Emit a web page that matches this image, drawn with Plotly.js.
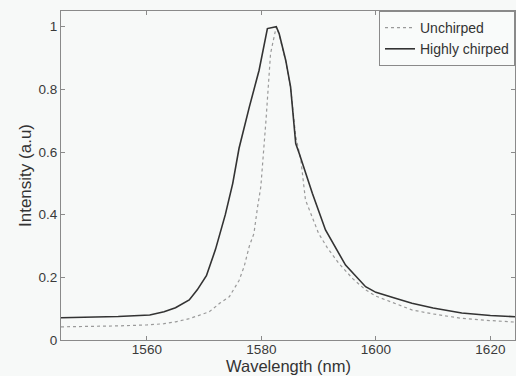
<!DOCTYPE html>
<html>
<head>
<meta charset="utf-8">
<script src="https://cdn.plot.ly/plotly-3.0.1.min.js"></script>
<style>
html,body{margin:0;padding:0;background:#f7f9f8;}
#chart{width:516px;height:376px;}
</style>
</head>
<body>
<div id="chart"></div>
<script>
// Unchirped (dotted grey)
var unchirpedX = [1545, 1550, 1555, 1560, 1563, 1565, 1567.4, 1569, 1570.9, 1572.7, 1574.4, 1576.1, 1577, 1577.9, 1578.7, 1579.3, 1579.9, 1580.8, 1581.6, 1582.6, 1583.1, 1584.25, 1585.1, 1586.0, 1586.9, 1587.7, 1589, 1590.0, 1591.5, 1593.5, 1596, 1598.2, 1600, 1603.4, 1606.3, 1610, 1615, 1620, 1624.5];
var unchirpedY = [0.042, 0.043, 0.045, 0.048, 0.052, 0.058, 0.068, 0.078, 0.090, 0.117, 0.138, 0.190, 0.235, 0.300, 0.340, 0.420, 0.489, 0.700, 0.914, 1.000, 0.975, 0.890, 0.805, 0.650, 0.574, 0.447, 0.385, 0.340, 0.295, 0.245, 0.195, 0.160, 0.140, 0.115, 0.096, 0.083, 0.069, 0.062, 0.057];
// Highly chirped (solid dark)
var chirpedX = [1545, 1550, 1555, 1560.5, 1563, 1565, 1567.4, 1568.8, 1570.4, 1572, 1573.7, 1575, 1576.1, 1577.9, 1579.6, 1581.05, 1582.6, 1583.1, 1584.25, 1585.1, 1586.0, 1586.6, 1588.9, 1591.2, 1594.7, 1598.2, 1600, 1603.4, 1606.3, 1610, 1615, 1620, 1624.5];
var chirpedY = [0.071, 0.072, 0.075, 0.080, 0.090, 0.103, 0.128, 0.160, 0.205, 0.290, 0.400, 0.500, 0.612, 0.744, 0.861, 0.994, 1.000, 0.978, 0.893, 0.808, 0.627, 0.596, 0.468, 0.351, 0.239, 0.170, 0.152, 0.133, 0.117, 0.102, 0.086, 0.078, 0.074];
var seriesNames = ["Unchirped", "Highly chirped"];
var xTicks = [1560, 1580, 1600, 1620];
var yTicks = [0, 0.2, 0.4, 0.6, 0.8, 1];
var xTitle = "Wavelength (nm)";
var yTitle = "Intensity (a.u)";

var FONT = "Liberation Sans, Arial, sans-serif";

var traces = [
  {x: unchirpedX, y: unchirpedY, mode: "lines", name: seriesNames[0],
   line: {color: "#9a9a9a", width: 1.2, dash: "dot"}},
  {x: chirpedX, y: chirpedY, mode: "lines", name: seriesNames[1],
   line: {color: "#333333", width: 1.6}}
];

var axisCommon = {
  showgrid: false, zeroline: false, showline: true, mirror: "ticks",
  linecolor: "#8a8a8a", linewidth: 1, ticks: "inside", ticklen: 4,
  tickcolor: "#8a8a8a", tickfont: {family: FONT, size: 13.5, color: "#3a3a3a"}
};

var layout = {
  width: 516, height: 376,
  margin: {l: 61, r: 1, t: 11, b: 36},
  paper_bgcolor: "#f7f9f8", plot_bgcolor: "#f7f9f8",
  showlegend: true,
  legend: {x: 1, y: 1, xanchor: "right", yanchor: "top",
           bgcolor: "#f9fbfa", bordercolor: "#8a8a8a", borderwidth: 1,
           font: {family: FONT, size: 14, color: "#333"},
           tracegroupgap: 0, itemwidth: 30},
  xaxis: Object.assign({}, axisCommon, {
    range: [1545, 1624.3], tickvals: xTicks, ticktext: xTicks.map(String),
    ticklabelstandoff: -3
  }),
  yaxis: Object.assign({}, axisCommon, {
    range: [0, 1.05], tickvals: yTicks, ticktext: yTicks.map(String),
    title: {text: yTitle, standoff: 2,
            font: {family: FONT, size: 17, color: "#333"}}
  }),
  annotations: [
    {text: xTitle, xref: "paper", yref: "paper", x: 0.5, y: 0, yshift: -37,
     xanchor: "center", yanchor: "bottom", showarrow: false,
     font: {family: FONT, size: 16.5, color: "#333"}}
  ]
};

Plotly.newPlot("chart", traces, layout, {displayModeBar: false, staticPlot: true});
</script>
</body>
</html>
